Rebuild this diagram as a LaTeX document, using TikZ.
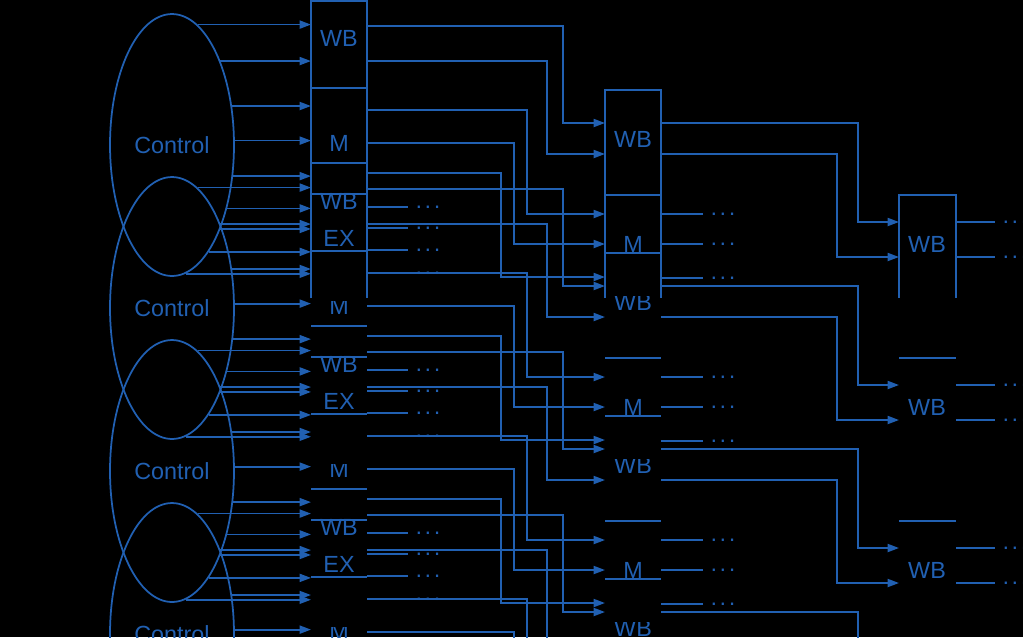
\documentclass[tikz,border=0pt]{standalone}
\usepackage{fontspec}
\setmainfont{Liberation Sans}
\usetikzlibrary{shapes.geometric, arrows.meta}
\definecolor{pipeblue}{RGB}{33,96,178}
\tikzstyle{ctl} = [ellipse, draw, color=pipeblue, line width=1pt, minimum width=2.48cm, minimum height=5.24cm, font=\fontsize{13.3}{15}\selectfont]
\tikzstyle{field} = [text=pipeblue, inner sep=0pt, font=\fontsize{13.3}{15}\selectfont]
\tikzstyle{reg} = [draw, color=pipeblue, line width=1pt]
\tikzstyle{sig} = [draw, color=pipeblue, line width=1pt, -{Triangle[length=6.5pt, width=4.6pt]}]
\tikzstyle{stub} = [draw, color=pipeblue, line width=1pt]
\tikzstyle{more} = [text=pipeblue, inner sep=0pt, anchor=base west, xshift=3.5pt, yshift=-3.6pt, font=\fontsize{13}{15}\selectfont]
\newcommand{\moredots}{\textperiodcentered\kern.9pt\textperiodcentered\kern.9pt\textperiodcentered}

\begin{document}
\begin{tikzpicture}[x=0.02cm, y=-0.02cm]
    \path[use as bounding box, fill=black] (0,0) rectangle (1023,637);
    \clip (0,0) rectangle (1023,637);

    \coordinate (r1w) at (311,0);
    \coordinate (r1e) at (367,0);
    \coordinate (r2w) at (605,0);
    \coordinate (r2e) at (661,0);
    \coordinate (r3w) at (899,0);
    \coordinate (r3e) at (956,0);

    % control units and their signals
    \foreach \k in {0,...,3}
        \node[ctl] (ctl\k) at (172,{145+163*\k}) {Control};
    \foreach \k in {0,...,3}
        \foreach \dy in {-119,-84,-38,-4,31,62,83,105,128} {
            \pgfmathtruncatemacro\ang{round(atan2(-\dy, 62*sqrt(1-(\dy/131)^2)))}
            \draw[sig] (ctl\k.\ang) -- (ctl\k.\ang -| r1w);
        }

    % first register column
    \draw[reg] (311,298) |- (367,1) -- (367,298);
    \foreach \k in {0,...,3} {
        \draw[reg] (311,{88+163*\k}) -- ++(56,0);
        \draw[reg] (311,{163+163*\k}) -- ++(56,0);
    }
    \foreach \k in {1,2,3}
        \draw[reg] (311,{31+163*\k}) -- ++(56,0);

    \foreach \k in {0,...,3} {
        \foreach \ya/\xr/\yb in {26/563/123, 61/547/154, 110/527/214, 143/514/244, 173/501/277} {
            \pgfmathsetmacro\ys{\ya+163*\k}
            \pgfmathsetmacro\ye{\yb+163*\k}
            \draw[sig] (r1e |- 0,\ys) -| (\xr,\ye) -- (r2w |- 0,\ye);
        }
        \foreach \ya in {207,228,250,273} {
            \pgfmathsetmacro\ys{\ya+163*\k}
            \draw[stub] (r1e |- 0,\ys) -- (408,\ys) node[more] (ex\k-\ya) {\moredots};
        }
    }

    % second register column
    \draw[reg] (605,298) |- (661,90) -- (661,298);
    \foreach \k in {0,...,3} {
        \draw[reg] (605,{195+163*\k}) -- ++(56,0);
        \draw[reg] (605,{253+163*\k}) -- ++(56,0);
    }
    \foreach \k in {0,...,3} {
        \foreach \ya/\xr/\yb in {123/858/222, 154/837/257} {
            \pgfmathsetmacro\ys{\ya+163*\k}
            \pgfmathsetmacro\ye{\yb+163*\k}
            \draw[sig] (r2e |- 0,\ys) -| (\xr,\ye) -- (r3w |- 0,\ye);
        }
        \foreach \ya in {214,244,278} {
            \pgfmathsetmacro\ys{\ya+163*\k}
            \draw[stub] (r2e |- 0,\ys) -- (703,\ys) node[more] (mem\k-\ya) {\moredots};
        }
    }

    % third register column
    \draw[reg] (899,298) |- (956,195) -- (956,298);
    \foreach \k in {1,2,3}
        \draw[reg] (899,{195+163*\k}) -- ++(57,0);
    \foreach \k in {0,...,3}
        \foreach \ya in {222,257} {
            \pgfmathsetmacro\ys{\ya+163*\k}
            \draw[stub] (r3e |- 0,\ys) -- (995,\ys) node[more] (wb\k-\ya) {\moredots};
        }

    % field labels
    \node[field] (mA0) at (339,143) {M};
    \node[field] (wbB0) at (633,139) {WB};
    \foreach \k in {0,...,3} {
        \node[field] (wbA\k) at (339,{38+163*\k}) {WB};
        \node[field] (mB\k) at (633,{244+163*\k}) {M};
        \node[field] (wbC\k) at (927,{244+163*\k}) {WB};
    }
    \foreach \k in {0,1,2}
        \node[field] (exA\k) at (339,{238+163*\k}) {EX};
    \foreach \k in {1,2,3} {
        \begin{scope}
            \clip (300,{138+163*\k}) rectangle (380,{175+163*\k});
            \node[field] (mA\k) at (339,{143+163*\k}) {M};
        \end{scope}
    }
    \foreach \k in {0,...,3} {
        \begin{scope}
            \clip (590,{296+163*\k}) rectangle (680,{330+163*\k});
            \node[field] (wbD\k) at (633,{302+163*\k}) {WB};
        \end{scope}
    }

\end{tikzpicture}
\end{document}
